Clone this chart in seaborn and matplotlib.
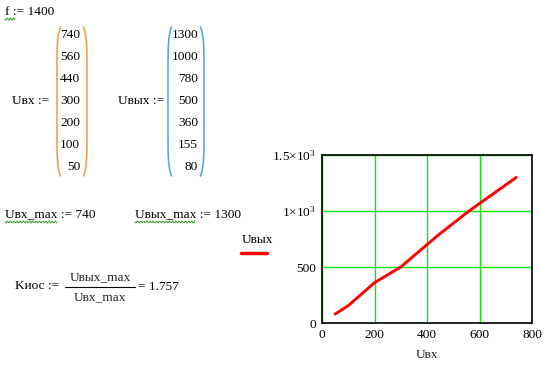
import matplotlib
matplotlib.use("Agg")
import matplotlib.pyplot as plt
import seaborn as sns
import pandas as pd
import numpy as np
from matplotlib.lines import Line2D

sns.set_style("white")
plt.rcParams['font.family'] = ['Liberation Serif', 'DejaVu Serif']
plt.rcParams['mathtext.fontset'] = 'custom'
plt.rcParams['mathtext.rm'] = 'Liberation Serif'
plt.rcParams['mathtext.it'] = 'Liberation Serif:italic'

u_in = [740, 560, 440, 300, 200, 100, 50]
u_out = [1300, 1000, 780, 500, 360, 155, 80]
x_ticks = [0, 200, 400, 600, 800]
y_ticks = [0, 500, 1000, 1500]
y_tick_labels = ['0', '500', r'1$\times$10$^{3}$', r'1.5$\times$10$^{3}$']

W, H = 555, 367
fig = plt.figure(figsize=(W / 100, H / 100), dpi=100)

def fx(px):
    return px / W

def fy(py):
    return 1 - py / H

FS = 9.6

def txt(px, py, s, ha='left', **kw):
    fig.text(fx(px), fy(py), s, ha=ha, va='center', fontsize=FS, color='black', **kw)

def wavy(x0, x1, py, color='#2a9d2a'):
    xs = np.linspace(x0, x1, 60)
    ys = py + 1.0 * np.sin((xs - x0) / 1.6 * np.pi)
    fig.add_artist(Line2D(fx(xs), fy(ys), color=color, lw=0.7))

# f := 1400
txt(5, 12, 'f := 1400')
wavy(5, 15, 19)

# Matrices
rows_y = [35, 57, 79, 101, 123, 145, 167]
txt(12, 101, 'Uвх :=')
for v, yy in zip(u_in, rows_y):
    txt(80, yy, str(v), ha='right')
txt(118, 101, 'Uвых :=')
for v, yy in zip(u_out, rows_y):
    txt(198, yy, str(v), ha='right')

def paren(xl, xr, y0, y1, color):
    t = np.linspace(-1, 1, 50)
    yy = y0 + (t + 1) / 2 * (y1 - y0)
    bulge = 3.5 * (1 - t ** 8)
    fig.add_artist(Line2D(fx(xl - bulge + 3.5), fy(yy), color=color, lw=1.2))
    fig.add_artist(Line2D(fx(xr + bulge - 3.5), fy(yy), color=color, lw=1.2))

paren(57, 87, 27, 176, '#f0a050')
paren(168, 204, 27, 176, '#5aa8e0')

# maxima
txt(5, 214, 'Uвх_max := 740')
wavy(5, 57, 222)
txt(135, 214, 'Uвых_max := 1300')
wavy(135, 195, 222)

# Kuos
txt(15, 286, 'Kиос :=')
fig.text(fx(100), fy(277), 'Uвых_max', ha='center', va='center', fontsize=FS)
fig.text(fx(100), fy(297), 'Uвх_max', ha='center', va='center', fontsize=FS)
fig.add_artist(Line2D([fx(65), fx(135)], [fy(287), fy(287)], color='black', lw=0.8))
txt(138, 287, '= 1.757')

# Legend-like label
txt(242, 240, 'Uвых')
fig.add_artist(Line2D([fx(241), fx(267)], [fy(253), fy(253)], color='red', lw=2.5))

# Plot
ax = fig.add_axes([fx(322), fy(323), fx(532) - fx(322), fy(155) - fy(323)])
df = pd.DataFrame({'Uвх': u_in, 'Uвых': u_out})
sns.lineplot(data=df, x='Uвх', y='Uвых', sort=False, color='red', lw=2.1, ax=ax, estimator=None)
ax.set_xlim(0, 800)
ax.set_ylim(0, 1500)
ax.set_xticks(x_ticks)
ax.set_yticks(y_ticks)
ax.set_yticklabels(y_tick_labels)
ax.grid(True, color='#11e011', lw=1.0)
ax.set_axisbelow(True)
for s in ax.spines.values():
    s.set_color('black')
    s.set_linewidth(1.2)
ax.tick_params(axis='both', length=0, labelsize=FS, pad=4, colors='black')
ax.set_xlabel('Uвх', fontsize=FS, labelpad=6)
ax.set_ylabel('')

fig.savefig('out.png', dpi=100, facecolor='white')
